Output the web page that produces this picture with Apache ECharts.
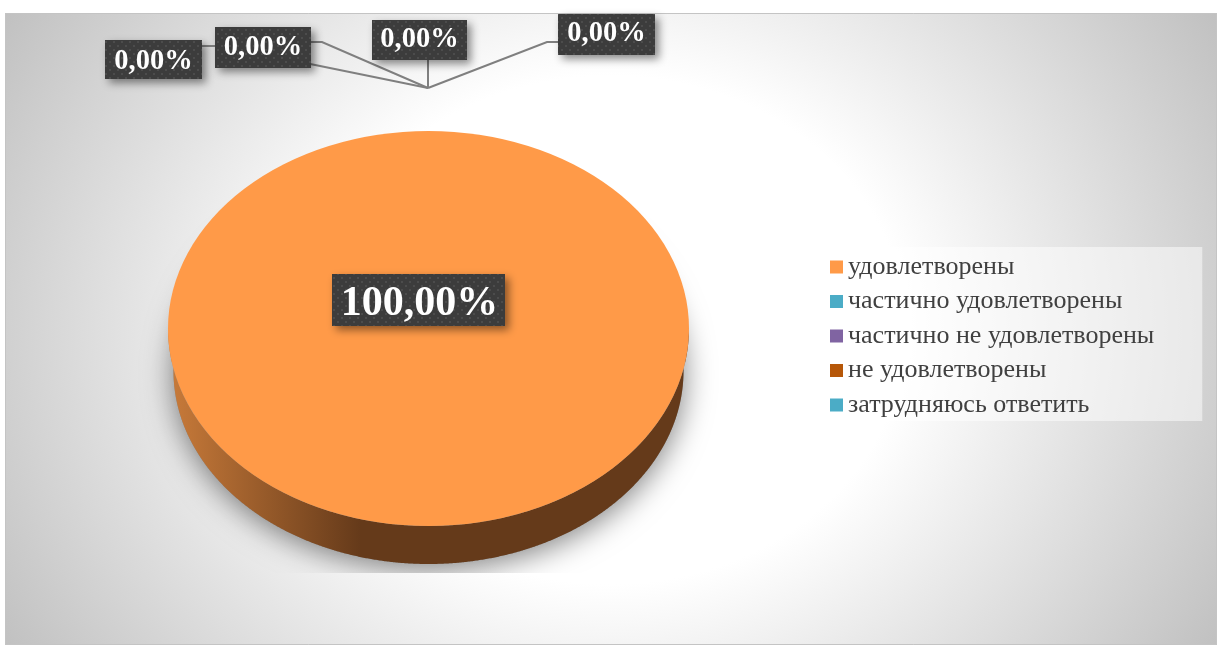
<!DOCTYPE html>
<html>
<head>
<meta charset="utf-8">
<style>
  html, body { margin: 0; padding: 0; background: #fff; }
  #chart { width: 1217px; height: 645px; }
</style>
<script src="https://cdn.jsdelivr.net/npm/echarts@6/dist/echarts.min.js"></script>
</head>
<body>
<div id="chart"></div>
<script>
// значения с диаграммы
const categories = ["удовлетворены", "частично удовлетворены", "частично не удовлетворены", "не удовлетворены", "затрудняюсь ответить"];
const values = [100, 0, 0, 0, 0];
const colors = ["#FF9A48", "#4BACC6", "#8064A2", "#B65708", "#4BACC6"];

// геометрия псевдо-3D круга
const pie = { cx: 428.5, cy: 328.5, rx: 260.5, ry: 197.5, shadowClipY: 573 };
const pieBottom = { cy: 371, rx: 255, ry: 193 };
// подписи: прямоугольник, сдвиг текста и выноска
const labelBoxes = [
  { x: 332, y: 274, w: 173, h: 52, font: 42, dy: 4, dx: 1 },
  { x: 105, y: 40, w: 97, h: 39, font: 28.5, dy: 2, dx: 0, line: [[202, 46], [222, 46], [428, 88]] },
  { x: 215, y: 27, w: 96, h: 41, font: 28.5, dy: 0, dx: 0, line: [[311, 42], [322, 42], [428, 88]] },
  { x: 372, y: 20, w: 95, h: 40, font: 28.5, dy: 0, dx: 0, line: [[428, 60], [428, 88]] },
  { x: 558, y: 14, w: 97, h: 41, font: 28.5, dy: -1, dx: 0, line: [[558, 42], [547, 42], [428, 88]] }
];
const fontFamily = '"Liberation Serif", serif';

// точечная заливка подписей
const dots = document.createElement("canvas");
dots.width = 8;
dots.height = 8;
const dctx = dots.getContext("2d");
dctx.fillStyle = "#3c3c3c";
dctx.fillRect(0, 0, 8, 8);
dctx.fillStyle = "#4c4c4c";
dctx.fillRect(1, 1, 2, 2);
dctx.fillRect(5, 5, 2, 2);

const total = values.reduce((a, b) => a + b, 0);

const toRad = (v) => (v / total) * Math.PI * 2;

const arcPoints = (from, to, e) => {
  const pts = [];
  const n = Math.max(2, Math.ceil((to - from) / 0.005));
  for (let i = 0; i <= n; i++) {
    const a = from + ((to - from) * i) / n;
    pts.push([pie.cx + e.rx * Math.cos(a), e.cy + e.ry * Math.sin(a)]);
  }
  return pts;
};

// видимая передняя стенка сектора
const wallParts = (start, end) => {
  const parts = [];
  [0, Math.PI * 2].forEach((shift) => {
    const from = Math.max(start, shift);
    const to = Math.min(end, shift + Math.PI);
    if (to > from) parts.push([from, to]);
  });
  return parts;
};

const renderSlice = (params, api) => {
  const idx = params.seriesIndex;
  const value = api.value(0);
  const before = values.slice(0, idx).reduce((a, b) => a + b, 0);
  const start = -Math.PI / 2 + toRad(before);
  const end = start + toRad(value);
  const children = [];

  if (value > 0) {
    // тень только снизу, верх спрятан под кругом
    children.push({
      type: "polygon",
      shape: {
        points: arcPoints(0, Math.PI, pieBottom).concat(
          arcPoints(Math.PI, Math.PI * 2, { cy: pie.cy + 40, rx: pieBottom.rx, ry: pie.ry })
        )
      },
      style: {
        fill: "#8a8a8a",
        shadowBlur: 30,
        shadowColor: "rgba(0,0,0,0.5)",
        shadowOffsetY: 5
      },
      clipPath: {
        type: "rect",
        shape: { x: 0, y: 0, width: 1217, height: pie.shadowClipY }
      }
    });
    wallParts(start, end).forEach((part) => {
      children.push({
        type: "polygon",
        shape: { points: arcPoints(part[0], part[1], pie).concat(arcPoints(part[0], part[1], pieBottom).reverse()) },
        style: {
          fill: {
            type: "linear",
            x: pie.cx - pie.rx,
            y: 0,
            x2: pie.cx + pie.rx,
            y2: 0,
            global: true,
            colorStops: [
              { offset: 0, color: "#C97B3A" },
              { offset: 0.37, color: "#653A1A" },
              { offset: 1, color: "#653A1A" }
            ]
          }
        }
      });
    });
    children.push({
      type: "sector",
      x: pie.cx,
      y: pie.cy,
      scaleY: pie.ry / pie.rx,
      shape: { cx: 0, cy: 0, r: pie.rx, r0: 0, startAngle: start, endAngle: end, clockwise: true },
      style: { fill: colors[idx] }
    });
  }

  const box = labelBoxes[idx];
  if (box.line) {
    children.push({
      type: "polyline",
      shape: { points: box.line },
      style: { fill: null, stroke: "#7F7F7F", lineWidth: 2 }
    });
  }
  children.push({
    type: "rect",
    shape: { x: box.x, y: box.y, width: box.w, height: box.h },
    style: {
      fill: { image: dots, repeat: "repeat" },
      shadowBlur: 8,
      shadowColor: "rgba(0,0,0,0.45)",
      shadowOffsetX: 4,
      shadowOffsetY: 4
    }
  });
  children.push({
    type: "text",
    style: {
      x: box.x + box.w / 2 + box.dx,
      y: box.y + box.h / 2 + box.dy,
      text: value.toFixed(2).replace(".", ",") + "%",
      fill: "#fff",
      font: "bold " + box.font + "px " + fontFamily,
      align: "center",
      verticalAlign: "middle"
    }
  });
  return { type: "group", children: children };
};

// фон: эллиптический градиент, масштаб по x
const bg = { x: 5, y: 13, w: 1212, h: 632, cx: 610, cy: 330, sx: 1.16 };

const myChart = echarts.init(document.getElementById("chart"), null, { renderer: "canvas" });

myChart.setOption({
  animation: false,
  graphic: [
    {
      type: "rect",
      z: -10,
      x: bg.cx,
      scaleX: bg.sx,
      shape: { x: (bg.x - bg.cx) / bg.sx, y: bg.y, width: bg.w / bg.sx, height: bg.h },
      style: {
        fill: {
          type: "radial",
          x: 0,
          y: bg.cy,
          r: 620,
          global: true,
          colorStops: [
            { offset: 0, color: "#ffffff" },
            { offset: 0.41, color: "#ffffff" },
            { offset: 1, color: "#bfbfbf" }
          ]
        }
      }
    },
    {
      type: "rect",
      z: -9,
      shape: { x: 5.5, y: 13.5, width: 1211, height: 631 },
      style: { fill: null, stroke: "#C4C4C4", lineWidth: 1 }
    }
  ],
  legend: {
    orient: "vertical",
    left: 783,
    top: 247,
    padding: [7, 48, 3, 47],
    backgroundColor: "rgba(255,255,255,0.5)",
    selectedMode: false,
    icon: "rect",
    itemWidth: 13,
    itemHeight: 13,
    itemGap: 8.5,
    textStyle: { color: "#404040", fontFamily: fontFamily, fontSize: 26, lineHeight: 24 },
    data: categories
  },
  series: categories.map((name, i) => ({
    name: name,
    type: "custom",
    coordinateSystem: "none",
    itemStyle: { color: colors[i] },
    renderItem: renderSlice,
    data: [[values[i]]]
  }))
});
</script>
</body>
</html>
